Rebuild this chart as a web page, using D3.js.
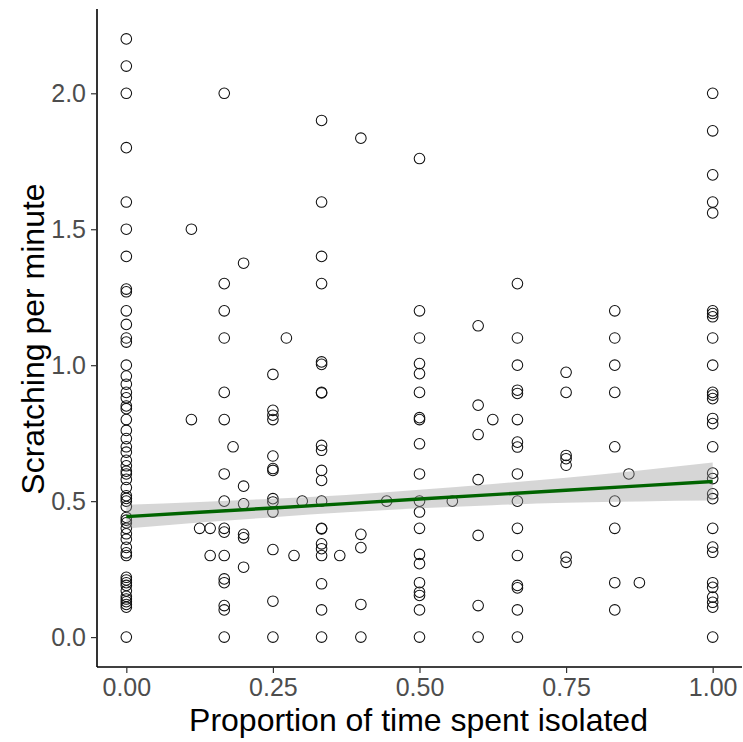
<!DOCTYPE html>
<html>
<head>
<meta charset="utf-8">
<script src="https://cdn.jsdelivr.net/npm/d3@7"></script>
<style>
  html, body { margin: 0; padding: 0; background: #fff; }
  svg { display: block; }
</style>
</head>
<body>
<svg id="chart" width="743" height="742"></svg>
<script>
// Proportion of time spent isolated (x positions of point columns)
const isolationLevels = [0, 0.111, 0.125, 0.143, 0.167, 0.182, 0.2, 0.25, 0.273, 0.286, 0.3,
  0.333, 0.364, 0.4, 0.444, 0.5, 0.556, 0.6, 0.625, 0.667, 0.75, 0.833, 0.857, 0.875, 1];

// Scratching per minute values for each column above
const scratchValues = [
  [2.2, 2.1, 2.0, 1.8, 1.6, 1.5, 1.4, 1.28, 1.27, 1.2, 1.15, 1.1, 1.085, 1.0,
   0.96, 0.93, 0.9, 0.88, 0.85, 0.84, 0.8, 0.76, 0.73, 0.7, 0.68, 0.65, 0.63, 0.61, 0.6, 0.58,
   0.55, 0.52, 0.51, 0.5, 0.48, 0.44, 0.43, 0.42, 0.4, 0.38, 0.36, 0.33, 0.31, 0.3,
   0.22, 0.21, 0.2, 0.19, 0.17, 0.15, 0.14, 0.13, 0.12, 0.11, 0.0],
  [1.5, 0.8],
  [0.4],
  [0.4, 0.3],
  [2.0, 1.3, 1.2, 1.1, 0.9, 0.8, 0.6, 0.5, 0.4, 0.386, 0.3, 0.214, 0.2, 0.116, 0.1, 0.0],
  [0.7],
  [1.375, 0.555, 0.49, 0.378, 0.365, 0.257],
  [0.966, 0.834, 0.816, 0.8, 0.666, 0.62, 0.613, 0.509, 0.497, 0.46, 0.322, 0.132, 0.0],
  [1.1],
  [0.3],
  [0.5],
  [1.9, 1.6, 1.4, 1.3, 1.012, 1.003, 0.9, 0.898, 0.705, 0.687, 0.613, 0.576, 0.5,
   0.4, 0.398, 0.343, 0.325, 0.3, 0.196, 0.1, 0.0],
  [0.3],
  [1.835, 0.378, 0.329, 0.12, 0.0],
  [0.5],
  [1.76, 1.2, 1.1, 1.006, 0.969, 0.9, 0.807, 0.8, 0.711, 0.6, 0.5, 0.46, 0.4, 0.304, 0.27,
   0.2, 0.165, 0.153, 0.1, 0.0],
  [0.5],
  [1.145, 0.853, 0.745, 0.579, 0.374, 0.116, 0.0],
  [0.8],
  [1.3, 1.1, 1.0, 0.908, 0.896, 0.8, 0.717, 0.699, 0.6, 0.5, 0.4, 0.3, 0.19, 0.181, 0.1, 0.0],
  [0.974, 0.9, 0.668, 0.656, 0.632, 0.294, 0.275],
  [1.2, 1.1, 1.0, 0.9, 0.7, 0.5, 0.4, 0.2, 0.1],
  [0.6],
  [0.2],
  [2.0, 1.862, 1.7, 1.6, 1.56, 1.2, 1.19, 1.178, 1.1, 1.0, 0.9, 0.89, 0.877, 0.804, 0.785,
   0.7, 0.603, 0.583, 0.527, 0.509, 0.4, 0.331, 0.312, 0.2, 0.183, 0.147, 0.128, 0.11, 0.0]
];

// Fitted linear trend and its confidence band
const fitX = [0, 0.125, 0.25, 0.375, 0.5, 0.625, 0.75, 0.875, 1];
const fitY = [0.443, 0.459, 0.475, 0.491, 0.508, 0.524, 0.540, 0.556, 0.572];
const fitLower = [0.399, 0.421, 0.441, 0.459, 0.474, 0.485, 0.494, 0.499, 0.502];
const fitUpper = [0.487, 0.497, 0.509, 0.523, 0.542, 0.563, 0.586, 0.613, 0.642];

const xTicks = [0, 0.25, 0.5, 0.75, 1];
const yTicks = [0, 0.5, 1.0, 1.5, 2.0];

const xTitle = "Proportion of time spent isolated";
const yTitle = "Scratching per minute";

// Build points table
const points = [];
isolationLevels.forEach((xv, i) => {
  scratchValues[i].forEach(yv => points.push({ x: xv, y: yv }));
});
const fit = fitX.map((xv, i) => ({ x: xv, y: fitY[i], lo: fitLower[i], hi: fitUpper[i] }));

const svg = d3.select("#chart");
const panel = { left: 97, right: 742, top: 9, bottom: 667 };

const x = d3.scaleLinear().domain([-0.05, 1.05]).range([panel.left, panel.right]);
const y = d3.scaleLinear().domain([-0.11, 2.31]).range([panel.bottom, panel.top]);

const font = "'Liberation Sans', Arial, sans-serif";

// Points
svg.append("g")
  .selectAll("circle")
  .data(points)
  .join("circle")
  .attr("cx", d => x(d.x))
  .attr("cy", d => y(d.y))
  .attr("r", 5.3)
  .attr("fill", "none")
  .attr("stroke", "#111")
  .attr("stroke-width", 1.05);

// Confidence band
svg.append("path")
  .datum(fit)
  .attr("d", d3.area().x(d => x(d.x)).y0(d => y(d.lo)).y1(d => y(d.hi)).curve(d3.curveMonotoneX))
  .attr("fill", "#999999")
  .attr("fill-opacity", 0.4);

// Regression line
svg.append("path")
  .datum(fit)
  .attr("d", d3.line().x(d => x(d.x)).y(d => y(d.y)))
  .attr("fill", "none")
  .attr("stroke", "#006400")
  .attr("stroke-width", 3.4);

// Axes
const xAxis = d3.axisBottom(x).tickValues(xTicks).tickFormat(d3.format(".2f")).tickSize(6).tickPadding(5);
const yAxis = d3.axisLeft(y).tickValues(yTicks).tickFormat(d3.format(".1f")).tickSize(6).tickPadding(5);

const gx = svg.append("g").attr("transform", `translate(0,${panel.bottom})`).call(xAxis);
const gy = svg.append("g").attr("transform", `translate(${panel.left},0)`).call(yAxis);

[gx, gy].forEach(g => {
  g.select(".domain").attr("stroke", "#000").attr("stroke-width", 1.6);
  g.selectAll(".tick line").attr("stroke", "#333").attr("stroke-width", 1.2);
  g.selectAll(".tick text").attr("fill", "#4d4d4d").style("font-family", font).style("font-size", "25px");
});
gx.select(".domain").attr("d", `M${panel.left},0H${panel.right}`);
gy.select(".domain").attr("d", `M0,${panel.top}V${panel.bottom}`);

// Axis titles
svg.append("text")
  .attr("x", (panel.left + panel.right) / 2 - 1)
  .attr("y", 731)
  .attr("text-anchor", "middle")
  .style("font-family", font)
  .style("font-size", "32px")
  .attr("fill", "#000")
  .text(xTitle);

svg.append("text")
  .attr("transform", `translate(44,${(panel.top + panel.bottom) / 2 + 1}) rotate(-90)`)
  .attr("text-anchor", "middle")
  .style("font-family", font)
  .style("font-size", "32px")
  .attr("fill", "#000")
  .text(yTitle);
</script>
</body>
</html>
